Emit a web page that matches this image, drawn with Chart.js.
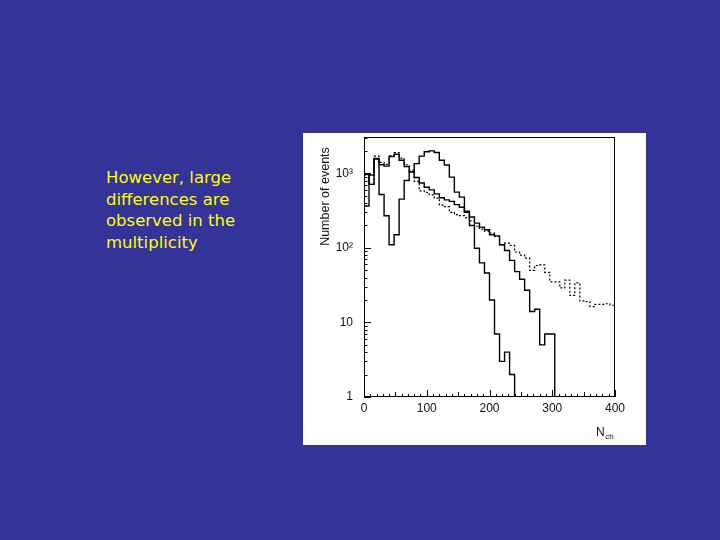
<!DOCTYPE html>
<html>
<head>
<meta charset="utf-8">
<script src="https://cdn.jsdelivr.net/npm/chart.js@4.4.1/dist/chart.umd.min.js"></script>
<style>
  html, body { margin: 0; padding: 0; }
  body { width: 720px; height: 540px; background: #333399; position: relative; overflow: hidden; }
  #note {
    position: absolute; left: 106px; top: 167px;
    font-family: "DejaVu Sans", sans-serif; font-size: 16.5px; line-height: 21.5px;
    color: #ffff00; white-space: nowrap;
  }
  #panel { position: absolute; left: 303px; top: 133px; width: 343px; height: 312px; background: #ffffff; }
  #plot { position: absolute; left: 0; top: -3px; }
</style>
</head>
<body>
<div id="note">However, large<br>differences are<br>observed in the<br>multiplicity</div>
<div id="panel"><canvas id="plot" width="343" height="315"></canvas></div>
<script>
// histogram bins, 8 units wide, left edges start at 0
var binWidth = 8;

// narrow distribution (dip near 40, peak near 110)
var narrowCounts = [365, 950, 1550, 520, 270, 110, 150, 450, 800, 1050,
                    1350, 1700, 1950, 2000, 1900, 1500, 1290, 890, 560, 480,
                    300, 200, 99, 63, 46, 20, 7, 3, 4, 2];

// medium distribution
var mediumCounts = [960, 710, 1580, 1300, 1250, 1680, 1800, 1500, 1230, 1050,
                    880, 740, 650, 600, 530, 470, 440, 420, 380, 350,
                    310, 260, 215, 190, 175, 150, 145, 110, 92, 68,
                    48, 38, 27, 14, 15, 5, 7, 7];

// wide distribution (dotted)
var wideCounts = [960, 710, 1700, 1400, 1320, 1720, 1900, 1600, 1300, 1100,
                  780, 580, 555, 515, 465, 375, 357, 300, 280, 270,
                  255, 230, 195, 178, 168, 158, 142, 110, 116, 108,
                  88, 80, 73, 50, 58, 59, 47, 35, 35, 29,
                  37, 23, 34, 19.5, 19, 16.3, 17.5, 17.5, 17.8, 17];

var xTickValues = [0, 100, 200, 300, 400];
var yTickValues = [1, 10, 100, 1000];
var yTickLabels = ['1', '10', '10\u00b2', '10\u00b3'];

// turn bin counts into step points; closeTo = value of the last point (1 = drop to axis)
function toSteps(counts, closeTo) {
    var pts = counts.map(function (c, i) { return { x: i * binWidth, y: c }; });
    var last = closeTo === undefined ? counts[counts.length - 1] : closeTo;
    pts.push({ x: counts.length * binWidth, y: last });
    return pts;
}

var frameAndTicks = {
    id: 'frameAndTicks',
    afterDraw: function (chart) {
        var ctx = chart.ctx, a = chart.chartArea;
        var xs = chart.scales.x, ys = chart.scales.y;
        ctx.save();
        ctx.strokeStyle = '#000';
        ctx.lineWidth = 1;
        ctx.strokeRect(Math.round(a.left) + 0.5, Math.round(a.top) + 0.5,
                       Math.round(a.right - a.left) - 1, Math.round(a.bottom - a.top) - 1);

        ctx.beginPath();
        for (var v = xs.min; v <= xs.max; v += 10) {
            var len = v % 100 === 0 ? 7 : (v % 50 === 0 ? 5 : 3);
            var px = Math.round(xs.getPixelForValue(v)) + 0.5;
            ctx.moveTo(px, a.bottom);
            ctx.lineTo(px, a.bottom - len);
        }
        yTickValues.forEach(function (d) {
            for (var m = 1; m <= 9; m++) {
                var val = d * m;
                if (val > ys.max) break;
                var py = Math.round(ys.getPixelForValue(val)) + 0.5;
                ctx.moveTo(a.left, py);
                ctx.lineTo(a.left + (m === 1 ? 7 : 3.5), py);
            }
        });
        ctx.stroke();

        // axis titles
        ctx.fillStyle = '#111';
        ctx.font = '12.5px "Liberation Sans", Arial, sans-serif';
        ctx.save();
        ctx.translate(a.left - 38, a.top + 10);
        ctx.rotate(-Math.PI / 2);
        ctx.textAlign = 'right';
        ctx.textBaseline = 'middle';
        ctx.fillText('Number of events', 0, 0);
        ctx.restore();

        ctx.textAlign = 'left';
        ctx.textBaseline = 'alphabetic';
        ctx.font = '12px "Liberation Sans", Arial, sans-serif';
        var nx = a.right - 19, ny = a.bottom + 39;
        ctx.fillText('N', nx, ny);
        var nw = ctx.measureText('N').width;
        ctx.font = '8px "Liberation Sans", Arial, sans-serif';
        ctx.fillText('ch', nx + nw + 0.5, ny + 3);
        ctx.restore();
    }
};

var tickFont = { family: '"Liberation Sans", Arial, sans-serif', size: 12, lineHeight: 1.2 };

new Chart(document.getElementById('plot').getContext('2d'), {
    type: 'line',
    data: {
        datasets: [{
            data: toSteps(narrowCounts, 1),
            borderColor: '#000', borderWidth: 1.4
        }, {
            data: toSteps(mediumCounts, 1),
            borderColor: '#000', borderWidth: 1.4
        }, {
            data: toSteps(wideCounts),
            borderColor: '#000', borderWidth: 1.2, borderDash: [2, 2]
        }]
    },
    options: {
        responsive: false,
        animation: false,
        elements: { point: { radius: 0 }, line: { stepped: true, tension: 0 } },
        layout: { padding: { top: 0, right: 31, left: 0, bottom: 0 } },
        plugins: { legend: { display: false }, tooltip: { enabled: false } },
        scales: {
            x: {
                type: 'linear', min: 0, max: 400,
                grid: { display: false, drawTicks: false }, border: { display: false },
                afterBuildTicks: function (s) { s.ticks = xTickValues.map(function (v) { return { value: v }; }); },
                ticks: { color: '#111', font: tickFont, padding: 4, maxRotation: 0 },
                afterFit: function (s) { s.height = 48; }
            },
            y: {
                type: 'logarithmic', min: 1, max: 3050,
                grid: { display: false, drawTicks: true, tickLength: 11 }, border: { display: false },
                afterBuildTicks: function (s) { s.ticks = yTickValues.map(function (v) { return { value: v }; }); },
                ticks: {
                    color: '#111', font: tickFont, padding: 0, autoSkip: false,
                    callback: function (v) { return yTickLabels[yTickValues.indexOf(v)]; }
                },
                afterFit: function (s) { s.width = 61; }
            }
        }
    },
    plugins: [frameAndTicks]
});
</script>
</body>
</html>
